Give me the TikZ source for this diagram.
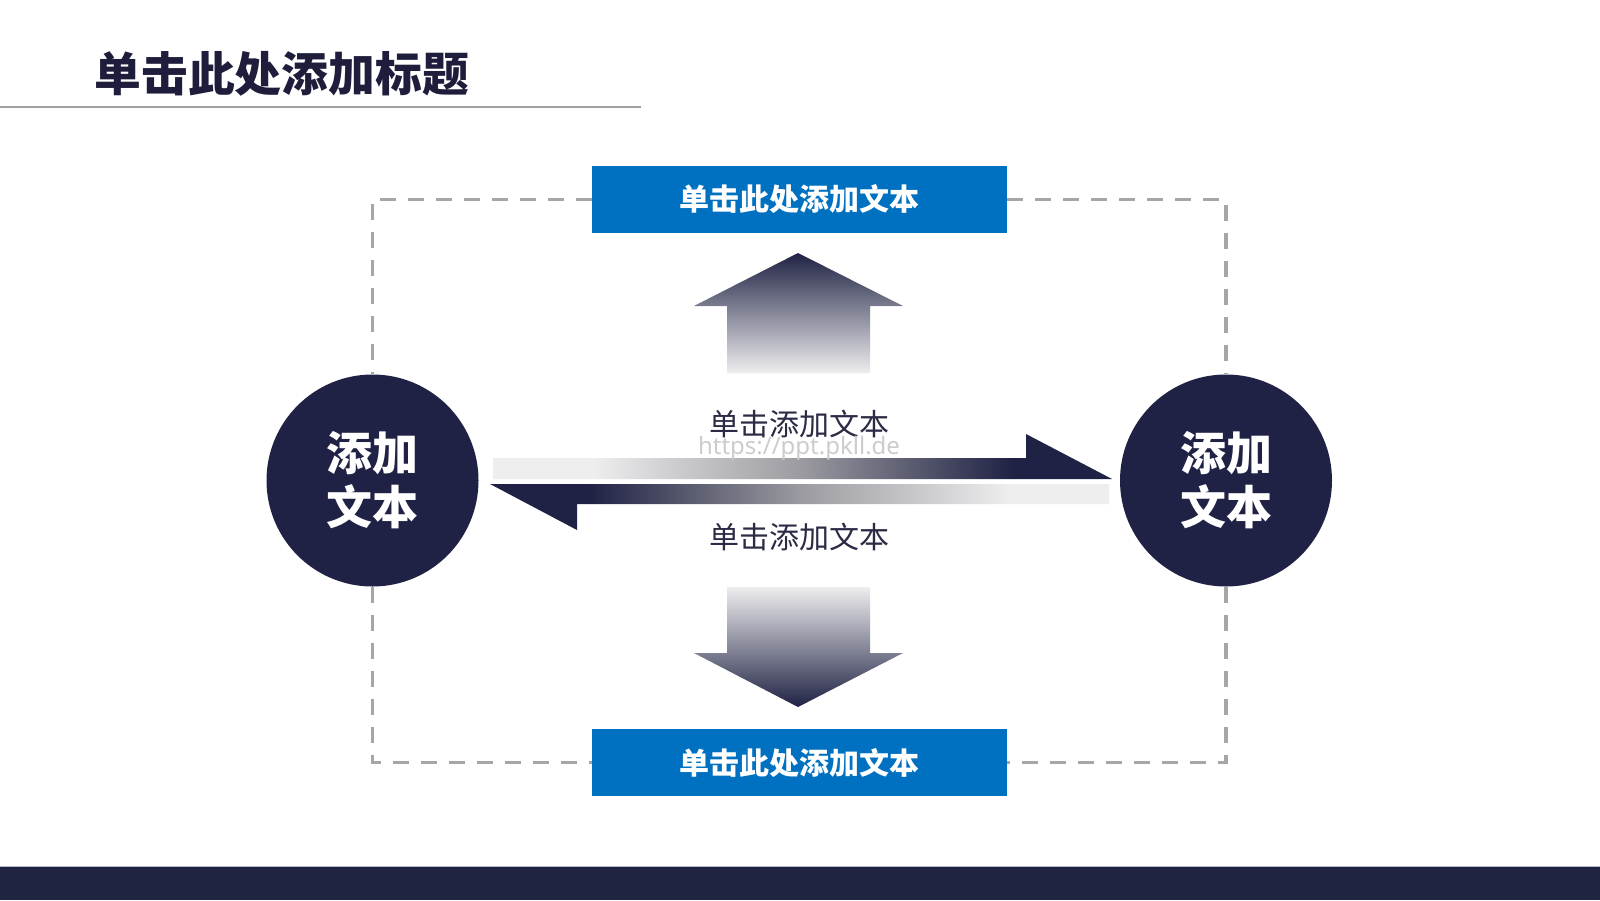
\documentclass[tikz,border=0pt]{standalone}
\usepackage{fontspec}
\newfontfamily\cjk{Noto Sans CJK SC}
\newfontfamily\wmfont{Noto Sans}
\definecolor{navy}{HTML}{1F2244}
\definecolor{titlec}{HTML}{1E1E3C}
\definecolor{boxblue}{HTML}{0070C0}
\definecolor{dashgray}{HTML}{A6A6A6}
\definecolor{rulegray}{HTML}{A0A0A0}
\definecolor{lgray}{HTML}{EEEEEF}
\definecolor{mgray}{HTML}{9A9AA0}
\definecolor{midtextc}{HTML}{2B2B45}
\definecolor{bandc}{HTML}{1F2440}
\definecolor{bandline}{HTML}{B8B8D0}
\pgfdeclarehorizontalshading{rgrad}{100bp}{color(0bp)=(lgray); color(33bp)=(lgray); color(50bp)=(mgray); color(67bp)=(navy); color(100bp)=(navy)}
\pgfdeclarehorizontalshading{lgrad}{100bp}{color(0bp)=(navy); color(33bp)=(navy); color(50bp)=(mgray); color(67bp)=(lgray); color(100bp)=(lgray)}
\tikzset{
  bluebox/.style={fill=boxblue, minimum width=207.5pt, minimum height=33.5pt, inner sep=0pt,
    text=white, font=\cjk\bfseries\fontsize{15}{18}\selectfont},
  circ/.style={circle, fill=navy, minimum size=106pt, inner sep=0pt, text=white, align=center,
    font=\cjk\bfseries\fontsize{23}{27}\selectfont},
  dashline/.style={draw=dashgray, line width=1.6pt, dash pattern=on 8pt off 6pt},
  midtext/.style={text=midtextc, font=\cjk\fontsize{15}{18}\selectfont, inner sep=0pt},
}
\begin{document}
\begin{tikzpicture}[x=0.5pt, y=-0.5pt]
\useasboundingbox (0,0) rectangle (1600,900);
\fill[white] (0,0) rectangle (1600,900);
% title
\node[anchor=west, inner sep=0pt, text=titlec, font=\cjk\bfseries\fontsize{23.4}{28}\selectfont] (title) at (94,74) {单击此处添加标题};
\coordinate (r1) at (0,107);
\coordinate (r2) at (641,107);
\draw[rulegray, line width=1pt] (r1) -- (r2);
% nodes
\coordinate (Tpos) at (799.5,199.5);
\coordinate (Bpos) at (799.5,762.5);
\coordinate (Lpos) at (372.5,480.5);
\coordinate (Rpos) at (1226,480.5);
\path (Tpos) node[bluebox, draw=none, fill=none] (Tph) {};
\path (Bpos) node[bluebox, draw=none, fill=none] (Bph) {};
\path (Lpos) node[circ, fill=none] (Lph) {};
\path (Rpos) node[circ, fill=none] (Rph) {};
% dashed frame
\draw[dashline] (Tph.west) -| (Lph.north);
\draw[dashline] (Lph.south) |- (Bph.west);
\draw[dashline] (Tph.east) -| (Rph.north);
\draw[dashline] (Rph.south) |- (Bph.east);
% vertical arrows
\shade[top color=navy, bottom color=lgray] (798,253) -- (903,306) -- (870,306) -- (870,373) -- (727,373) -- (727,306) -- (694,306) -- cycle;
\shade[top color=lgray, bottom color=navy] (727,587) -- (870,587) -- (870,653) -- (903,653) -- (798,707) -- (694,653) -- (727,653) -- cycle;
% horizontal arrows
\shade[shading=rgrad] (493,458) -- (1026,458) -- (1026,434) -- (1112,479) -- (493,479) -- cycle;
\shade[shading=lgrad] (1109,484) -- (490,484) -- (577,530) -- (577,504) -- (1109,504) -- cycle;
% boxes and circles
\node[bluebox] (T) at (Tpos) {单击此处添加文本};
\node[bluebox] (B) at (Bpos) {单击此处添加文本};
\node[circ] (L) at (Lpos) {添加\\文本};
\node[circ] (R) at (Rpos) {添加\\文本};
% middle texts
\node[midtext] (m1) at (799,424) {单击添加文本};
\node[midtext] (m2) at (799,537) {单击添加文本};
\node[text=black!20, font=\wmfont\bfseries\fontsize{12}{14}\selectfont, inner sep=0pt] (wm) at (799,448) {https://ppt.pkll.de};
% bottom band
\fill[bandc] (0,866) rectangle (1600,900);
\draw[bandline, line width=0.5pt] (0,866) -- (1600,866);
\end{tikzpicture}
\end{document}
